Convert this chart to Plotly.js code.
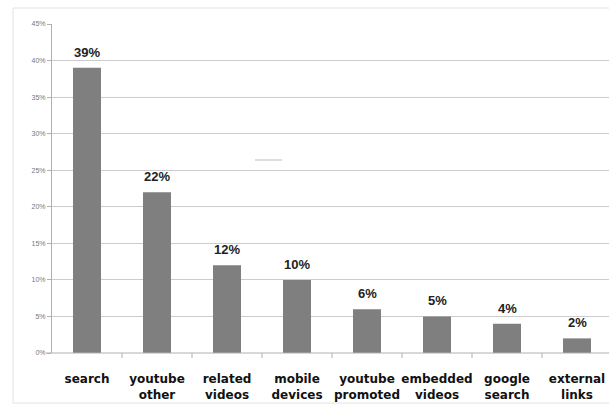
<!DOCTYPE html>
<html><head><meta charset="utf-8">
<script src="https://cdn.plot.ly/plotly-3.0.1.min.js"></script>
<style>html,body{margin:0;padding:0;background:#fff}#c{width:609px;height:408px}</style>
</head><body><div id="c"></div>
<script>
const categories = ["search","youtube<br>other","related<br>videos","mobile<br>devices","youtube<br>promoted","embedded<br>videos","google<br>search","external<br>links"];
const values = [39,22,12,10,6,5,4,2];
const tickVals = [0,5,10,15,20,25,30,35,40,45];
const tickText = ["0%","5%","10%","15%","20%","25%","30%","35%","40%","45%"];

const W=609,H=408,L=52,T=24,B=55,R=0;
const pw=W-L-R, ph=H-T-B;
const catW=70;
const idx = categories.map((c,i)=>i);

const trace = {
  type:'bar', x:idx, y:values, width:0.4,
  marker:{color:'#7f7f7f', line:{width:0}},
  hoverinfo:'none'
};
const px2x = p => (p-L)/pw, py2y = p => 1-(p-T)/ph;
const layout = {
  width:W,height:H, margin:{l:L,r:R,t:T,b:B},
  paper_bgcolor:'#fff', plot_bgcolor:'#fff', showlegend:false,
  font:{family:'Liberation Sans, Arial, sans-serif'},
  xaxis:{range:[-0.5,-0.5+pw/catW], tickvals:idx, ticktext:categories, tickangle:0, showgrid:false, zeroline:false,
    showline:false, ticks:'', tickfont:{size:12,color:'#111',family:'DejaVu Sans, sans-serif',weight:'bold'}, ticklabelstandoff:17, fixedrange:true},
  yaxis:{range:[0,45], tickvals:tickVals, ticktext:tickText, showgrid:true, gridcolor:'#cccccc', gridwidth:1,
    zeroline:false, showline:true, linecolor:'#b0b0b0', ticks:'outside', ticklen:4, tickcolor:'#b0b0b0',
    tickfont:{size:7,color:'#777'}, fixedrange:true},
  annotations: idx.map(i=>({x:i, y:values[i], xref:'x', yref:'y', text:values[i]+'%', showarrow:false,
    yanchor:'bottom', yshift:6, font:{family:'Liberation Sans, Arial, sans-serif', size:13, color:'#222', weight:'bold'}})),
  shapes:[
    {type:'rect', xref:'paper', yref:'paper', x0:px2x(13), x1:px2x(620), y0:py2y(8), y1:py2y(403), line:{color:'#e2e2e2',width:1}},
    {type:'line', xref:'paper', yref:'paper', x0:px2x(46), x1:1.02, y0:0, y1:0, line:{color:'#b0b0b0',width:1}},
    {type:'line', xref:'paper', yref:'paper', x0:px2x(255), x1:px2x(282), y0:py2y(160), y1:py2y(160), line:{color:'#bbbbbb',width:1}}
  ].concat(idx.map(i=>({type:'line', xref:'x', yref:'paper', x0:i+0.5, x1:i+0.5, y0:0, y1:py2y(358), line:{color:'#b0b0b0',width:1}})))
};
Plotly.newPlot('c',[trace],layout,{staticPlot:true,displayModeBar:false});
</script></body></html>
